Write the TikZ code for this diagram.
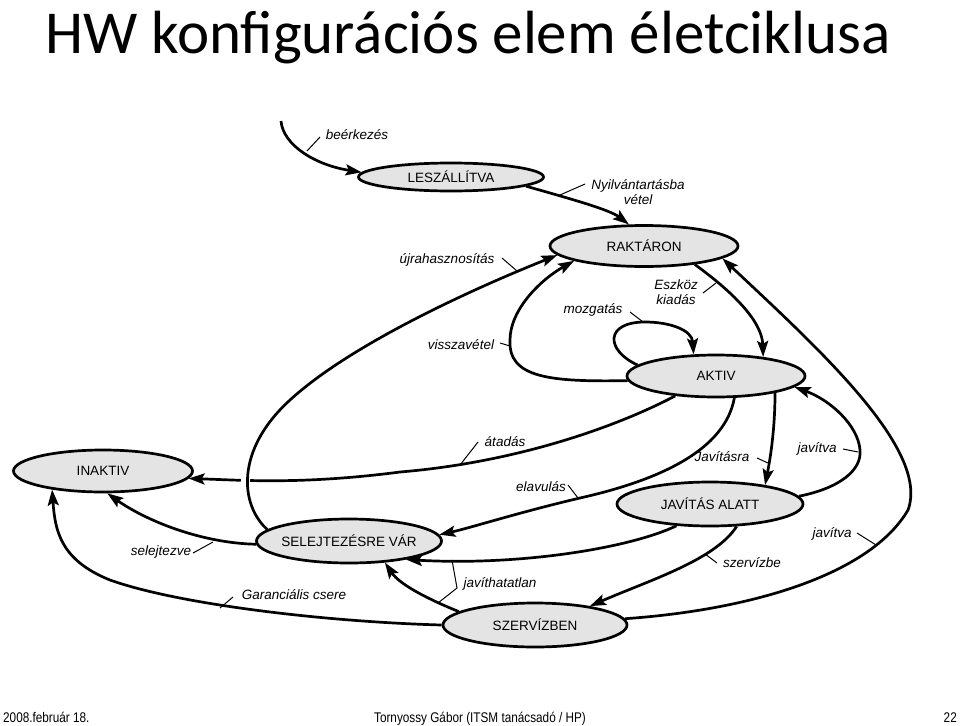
\documentclass[tikz,border=0pt]{standalone}
\usepackage{fontspec}
\usepackage{graphicx}
\setmainfont{Liberation Sans}
\newfontfamily\titlefont{Carlito}
\usetikzlibrary{shapes.geometric,arrows.meta}
\definecolor{stategray}{HTML}{E4E4E4}
\begin{document}
\begin{tikzpicture}[x=1pt,y=-1pt,
  state/.style={ellipse, draw=black, line width=2.7pt, fill=stategray, inner sep=0pt,
    minimum width=185pt, minimum height=42pt, font=\fontsize{13.5}{16}\selectfont},
  flow/.style={line width=2.7pt, -{Stealth[length=16pt,width=11pt,inset=3pt]}},
  lbl/.style={font=\fontsize{13.5}{15}\selectfont\itshape, inner sep=0pt, align=center},
  ticky/.style={line width=1pt},
  foot/.style={inner sep=0pt, font=\fontsize{14}{16}\selectfont}
]
\useasboundingbox (0,0) rectangle (960,725);

% title
\node[anchor=base west, inner sep=0pt, font=\titlefont\fontsize{61}{70}\selectfont] (title) at (45,53) {HW konfigurációs elem életciklusa};

% states
\node[state, minimum width=185pt, minimum height=28pt] (lesz) at (451,177) {\makebox[0pt]{LESZÁLLÍTVA}};
\node[state, minimum width=188pt, minimum height=41pt] (rakt) at (644,246) {\makebox[0pt]{RAKTÁRON}};
\node[state, minimum width=178pt, minimum height=42pt] (aktiv) at (716,376) {\makebox[0pt]{AKTIV}};
\node[state, minimum width=186pt, minimum height=44pt] (javal) at (710,504) {\makebox[0pt]{JAVÍTÁS ALATT}};
\node[state, minimum width=179pt, minimum height=42pt] (inaktiv) at (103,471) {\makebox[0pt]{INAKTIV}};
\node[state, minimum width=185pt, minimum height=44pt] (selej) at (349,541) {\makebox[0pt]{SELEJTEZÉSRE VÁR}};
\node[state, minimum width=184pt, minimum height=44pt] (szerv) at (535,625) {\makebox[0pt]{SZERVÍZBEN}};

\coordinate (src) at (281,121);

% connectors
\draw[flow] (src) .. controls (283,145) and (315,165) .. (lesz.177);
\draw[flow] (lesz.-7) .. controls (575,200) and (610,210) .. (rakt.125);
\draw[flow] (rakt.-20) .. controls (730,290) and (762,320) .. (aktiv.22);
\draw[flow] (aktiv.172) .. controls (605,350) and (605,322) .. (645,322) .. controls (670,322) and (692,330) .. (aktiv.136);
\draw[flow] (aktiv.183) .. controls (550,382) and (508,378) .. (510,340) .. controls (510,310) and (540,280) .. (rakt.192);
\draw[flow] (szerv.4) .. controls (750,610) and (870,575) .. (908,510) .. controls (930,450) and (820,350) .. (rakt.-9);
\draw[flow] (javal.5) .. controls (840,488) and (862,470) .. (860,450) .. controls (858,425) and (830,400) .. (aktiv.-8);
\draw[flow] (aktiv.-16) .. controls (775,430) and (770,460) .. (javal.19);
\draw[flow] (aktiv.206) .. controls (620,425) and (520,462) .. (400,472) .. controls (300,485) and (240,480) .. (inaktiv.-5);
\draw[flow] (aktiv.-50) .. controls (725,450) and (660,480) .. (580,498) .. controls (520,512) and (470,528) .. (selej.4);
\draw[flow] (javal.213) .. controls (630,548) and (520,566) .. (selej.-18);
\draw[flow] (javal.-40) .. controls (715,560) and (650,580) .. (szerv.19);
\draw[flow] (szerv.170) .. controls (430,600) and (400,585) .. (selej.-31);
\draw[flow] (szerv.180) .. controls (330,622) and (180,605) .. (110,580) .. controls (60,560) and (55,530) .. (inaktiv.200);
\draw[flow] (selej.182) .. controls (200,543) and (145,520) .. (inaktiv.-79);
\draw[flow, preaction={draw=white, line width=9pt, arrows=-, shorten <=15pt, shorten >=60pt}]
  (selej.172) .. controls (240,505) and (235,450) .. (290,400) .. controls (350,345) and (470,290) .. (rakt.186);

% labels
\node[lbl] (l-beer) at (357,135) {beérkezés};
\node[lbl] (l-nyilv) at (638,192) {Nyilvántartásba\\vétel};
\node[lbl] (l-ujra) at (447,260) {újrahasznosítás};
\node[lbl] (l-eszk) at (676,292) {Eszköz\\kiadás};
\node[lbl] (l-mozg) at (593,310) {mozgatás};
\node[lbl] (l-vissza) at (461,345) {visszavétel};
\node[lbl] (l-atadas) at (505,442) {átadás};
\node[lbl] (l-elav) at (541,487) {elavulás};
\node[lbl] (l-javra) at (722,457) {Javításra};
\node[lbl] (l-jav1) at (817,449) {javítva};
\node[lbl] (l-jav2) at (832,534) {javítva};
\node[lbl] (l-szbe) at (752,563) {szervízbe};
\node[lbl] (l-javh) at (500,584) {javíthatatlan};
\node[lbl] (l-gar) at (294,595) {Garanciális csere};
\node[lbl] (l-selj) at (161,552) {selejtezve};

% label ticks
\draw[ticky] (307,151) -- (320,137);
\draw[ticky] (560,195) -- (585,184);
\draw[ticky] (502,258) -- (517,271);
\draw[ticky] (703,293) -- (716,283);
\draw[ticky] (630,312) -- (643,322);
\draw[ticky] (500,343) -- (510,346);
\draw[ticky] (460,465) -- (478,442);
\draw[ticky] (568,485) -- (578,498);
\draw[ticky] (757,458) -- (768,463);
\draw[ticky] (843,449) -- (858,452);
\draw[ticky] (857,533) -- (876,545);
\draw[ticky] (705,554) -- (717,563);
\draw[ticky] (452,560) -- (457,588) -- (438,603);
\draw[ticky] (220,608) -- (233,597);
\draw[ticky] (193,553) -- (213,542);

% footer
\node[foot, anchor=base west] (date) at (3,722) {\scalebox{0.84}[1]{2008.február 18.}};
\node[foot, anchor=base] (author) at (480,722) {\scalebox{0.84}[1]{Tornyossy Gábor (ITSM tanácsadó / HP)}};
\node[foot, anchor=base east] (page) at (957,722) {\scalebox{0.84}[1]{22}};
\end{tikzpicture}
\end{document}
